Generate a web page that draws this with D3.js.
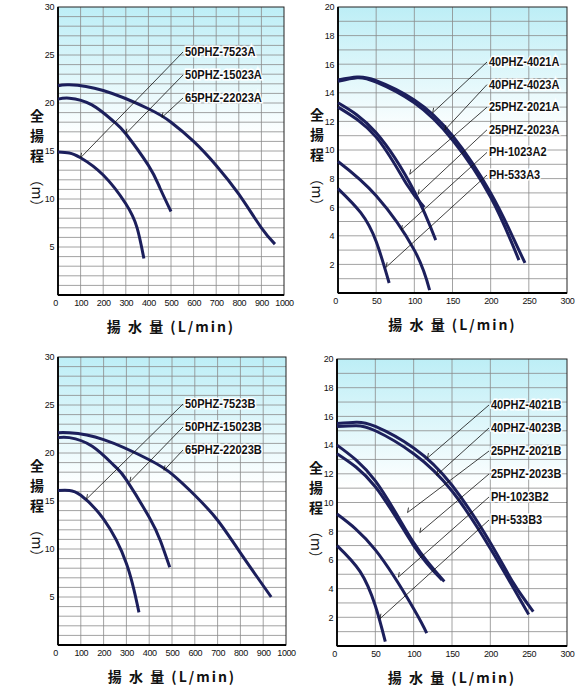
<!DOCTYPE html>
<html><head><meta charset="utf-8">
<script src="https://cdn.jsdelivr.net/npm/d3@7/dist/d3.min.js"></script>
<style>body{margin:0;background:#fff}</style></head>
<body><svg id="c" width="582" height="690"></svg>
<script>
// ---- data ----
const tlNames = ["50PHZ-7523A","50PHZ-15023A","65PHZ-22023A"];
const tlCurves = [
 [[0,14.9],[50,14.8],[100,14.3],[200,12.5],[300,9.5],[350,7],[380,3.8]],
 [[0,20.4],[50,20.5],[150,19.8],[250,18],[300,16.8],[400,13.5],[450,11.2],[500,8.7]],
 [[0,21.8],[50,21.9],[200,21.3],[400,19.4],[500,18],[600,16],[700,13.5],[800,10.5],[900,7],[960,5.3]]
];
const tlPoints = [[100,14.3],[300,16.8],[460,18.5]];
const trNames = ["40PHZ-4021A","40PHZ-4023A","25PHZ-2021A","25PHZ-2023A","PH-1023A2","PH-533A3"];
const trCurves = [
 [[0,14.9],[25,15.1],[50,14.85],[100,13.5],[150,11],[200,7],[230,3.8],[245,2.1]],
 [[0,14.8],[25,15.05],[50,14.75],[100,13.3],[150,10.7],[200,6.7],[237,2.3]],
 [[0,13.3],[50,11.2],[100,7.1],[128,3.7]],
 [[0,13],[50,10.9],[90,7.6],[113,6]],
 [[0,9.2],[50,6.8],[100,3],[120,0.2]],
 [[0,7.3],[30,5.6],[50,3.6],[67,0.7]]
];
const trPoints = [[124,12.6],[140,11.4],[94,8.3],[105,6.9],[83,4.4],[63,1.8]];
const blNames = ["50PHZ-7523B","50PHZ-15023B","65PHZ-22023B"];
const blCurves = [
 [[0,16.1],[50,16.1],[100,15.6],[200,13.1],[300,8.5],[355,3.4]],
 [[0,21.6],[50,21.6],[150,20.7],[250,18.6],[300,17.2],[400,13.3],[450,10.8],[490,8.1]],
 [[0,22.1],[50,22.1],[200,21.4],[400,19.3],[500,17.8],[600,15.6],[700,13],[800,9.6],[935,5]]
];
const blPoints = [[125,15.2],[315,17],[465,18.2]];
const brNames = ["40PHZ-4021B","40PHZ-4023B","25PHZ-2021B","25PHZ-2023B","PH-1023B2","PH-533B3"];
const brCurves = [
 [[0,15.5],[25,15.6],[50,15.3],[100,13.8],[150,11.2],[200,7.2],[230,4.4],[256,2.4]],
 [[0,15.3],[25,15.35],[50,15],[100,13.4],[150,10.8],[200,6.8],[250,2.2]],
 [[0,14],[50,11.5],[100,7.2],[140,4.5]],
 [[0,13.4],[50,11.1],[100,7],[137,4.6]],
 [[0,9.2],[50,6.7],[100,2.6],[117,0.9]],
 [[0,7],[30,5.2],[50,2.8],[63,0.3]]
];
const brPoints = [[118,13.1],[130,11.9],[92,9.3],[108,7.9],[80,4.8],[56,1.9]];
const xTicksL = [0,100,200,300,400,500,600,700,800,900,1000];
const xTicksR = [0,50,100,150,200,250,300];
const yTicksL = [5,10,15,20,25,30];
const yTicksR = [2,4,6,8,10,12,14,16,18,20];

const svg = d3.select("#c");
const defs = svg.append("defs");
const g = defs.append("linearGradient").attr("id","bg").attr("x1",0).attr("y1",0).attr("x2",0).attr("y2",1);
g.append("stop").attr("offset","0%").attr("stop-color","#bdeef6");
g.append("stop").attr("offset","45%").attr("stop-color","#ffffff");
g.append("stop").attr("offset","100%").attr("stop-color","#ffffff");
const narrow = "Liberation Sans Narrow, Arial Narrow, Liberation Sans, sans-serif";

function panel(o){
  const x = d3.scaleLinear().domain([0,o.xmax]).range([o.x0,o.x1]);
  const y = d3.scaleLinear().domain([0,o.ymax]).range([o.y0,o.y1]);
  const p = svg.append("g");
  p.append("rect").attr("x",o.x0).attr("y",o.y1).attr("width",o.x1-o.x0).attr("height",o.y0-o.y1).attr("fill","url(#bg)");
  p.append("g").selectAll("line").data(d3.range(1,o.ymax)).join("line")
   .attr("x1",o.x0).attr("x2",o.x1).attr("y1",d=>y(d)).attr("y2",d=>y(d)).attr("stroke","#8a8a8a").attr("stroke-width",0.8);
  p.append("g").selectAll("line").data(o.xt.slice(1,-1)).join("line")
   .attr("y1",o.y0).attr("y2",o.y1).attr("x1",d=>x(d)).attr("x2",d=>x(d)).attr("stroke","#8a8a8a").attr("stroke-width",0.8);
  p.append("rect").attr("x",o.x0).attr("y",o.y1).attr("width",o.x1-o.x0).attr("height",o.y0-o.y1).attr("fill","none").attr("stroke","#222").attr("stroke-width",1);
  p.append("line").attr("x1",o.x0).attr("x2",o.x0).attr("y1",o.y1).attr("y2",o.y0).attr("stroke","#000").attr("stroke-width",1.8);
  p.append("line").attr("x1",o.x0).attr("x2",o.x1).attr("y1",o.y0).attr("y2",o.y0).attr("stroke","#000").attr("stroke-width",1.8);
  const ax = d3.axisBottom(x).tickValues(o.xt).tickFormat(d3.format("d")).tickSize(0).tickPadding(5);
  const ay = d3.axisLeft(y).tickValues(o.yt).tickFormat(d3.format("d")).tickSize(0).tickPadding(4);
  const gx = p.append("g").attr("transform",`translate(0,${o.y0})`).call(ax);
  const gy = p.append("g").attr("transform",`translate(${o.x0},0)`).call(ay);
  [gx,gy].forEach(a=>{a.select(".domain").remove();a.selectAll("text").attr("font-family",narrow).attr("font-size",9).attr("letter-spacing",-0.4).attr("fill","#111");});
  gx.select(".tick text").attr("dx",-3);
  const line = d3.line().x(d=>x(d[0])).y(d=>y(d[1])).curve(d3.curveNatural);
  o.curves.forEach(c=>p.append("path").attr("d",line(c)).attr("fill","none").attr("stroke","#1c1f5c").attr("stroke-width",3).attr("stroke-linecap","butt"));
  o.names.forEach((n,i)=>{
    const ly = o.ly0 + i*o.ldy, lx = o.lx;
    const pt = o.points[i];
    p.append("line").attr("x1",lx-2).attr("y1",ly).attr("x2",x(pt[0])).attr("y2",y(pt[1])).attr("stroke","#111").attr("stroke-width",0.8);
    p.append("line").attr("x1",x(pt[0])).attr("y1",y(pt[1])).attr("x2",x(pt[0])+1).attr("y2",y(pt[1])-5).attr("stroke","#111").attr("stroke-width",0.8);
    p.append("text").attr("x",lx).attr("y",ly+4).text(n).attr("font-family",narrow)
     .attr("textLength",n.length*6.4).attr("lengthAdjust","spacingAndGlyphs")
     .attr("font-weight","bold").attr("font-size",13).attr("fill","#111").attr("stroke","#fff").attr("stroke-width",3).attr("paint-order","stroke");
  });
  const tx = o.x0-21, ty = (o.y0+o.y1)/2;
  const yt = p.append("g").attr("font-family","Noto Sans CJK JP, sans-serif").attr("font-weight","bold").attr("font-size",14).attr("fill","#111");
  ["全","揚","程"].forEach((c,i)=>yt.append("text").attr("x",tx).attr("y",ty-30+i*20).attr("text-anchor","middle").text(c));
  yt.append("text").attr("transform",`translate(${tx-5},${ty+42}) rotate(90)`).attr("text-anchor","middle").attr("font-weight","normal").text("（m）");
  p.append("text").attr("x",(o.x0+o.x1)/2).attr("y",o.y0+37).attr("text-anchor","middle").attr("font-family","Noto Sans CJK JP, sans-serif").attr("font-size",14).attr("font-weight","bold").attr("letter-spacing",2).attr("fill","#111").text("揚 水 量 (L/min)");
}
panel({x0:58,x1:284,y0:295,y1:7,xmax:1000,ymax:30,xt:xTicksL,yt:yTicksL,curves:tlCurves,names:tlNames,points:tlPoints,lx:185,ly0:52,ldy:23});
panel({x0:338,x1:567,y0:293,y1:7,xmax:300,ymax:20,xt:xTicksR,yt:yTicksR,curves:trCurves,names:trNames,points:trPoints,lx:489,ly0:62,ldy:22.6});
panel({x0:58,x1:286,y0:645,y1:357,xmax:1000,ymax:30,xt:xTicksL,yt:yTicksL,curves:blCurves,names:blNames,points:blPoints,lx:185,ly0:404,ldy:23});
panel({x0:337,x1:567,y0:646,y1:359,xmax:300,ymax:20,xt:xTicksR,yt:yTicksR,curves:brCurves,names:brNames,points:brPoints,lx:491,ly0:405,ldy:23});
</script></body></html>
